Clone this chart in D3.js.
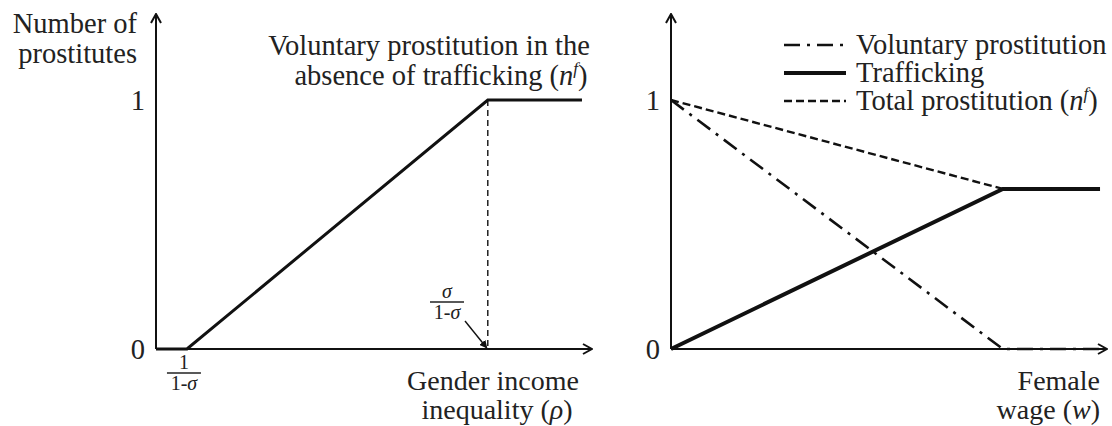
<!DOCTYPE html>
<html>
<head>
<meta charset="utf-8">
<script src="https://cdn.jsdelivr.net/npm/d3@7"></script>
<style>
  body { margin: 0; background: #fff; }
  svg text { font-family: "Liberation Serif", "DejaVu Serif", serif; fill: #222; }
</style>
</head>
<body>
<div id="chart"></div>
<script>
// Left panel: voluntary prostitution vs gender income inequality
const leftX = [0, 0.071, 0.761, 0.977];
const leftY = [0, 0, 1, 1];
const cutoffX = 0.761; // sigma/(1-sigma)

// Right panel: female wage
const rightX = [0, 0.761, 0.984];
const voluntary = [1, 0, 0];
const trafficking = [0, 0.643, 0.643];
const total = [1, 0.643, 0.643];

const yTicks = [0, 1];
const legendLabels = ["Voluntary prostitution", "Trafficking", "Total prostitution"];

const width = 1112, height = 426;
const ink = "#111";
const fs = 28.5;

const svg = d3.select("#chart").append("svg")
  .attr("width", width)
  .attr("height", height);

// arrow head for the axes
const defs = svg.append("defs");
defs.append("marker")
  .attr("id", "arrow")
  .attr("viewBox", "0 0 12 12")
  .attr("refX", 11).attr("refY", 6)
  .attr("markerWidth", 12).attr("markerHeight", 12)
  .attr("markerUnits", "userSpaceOnUse")
  .attr("orient", "auto")
  .append("path")
  .attr("d", "M2,1 L11,6 L2,11")
  .attr("fill", "none")
  .attr("stroke", ink)
  .attr("stroke-width", 2);
defs.append("marker")
  .attr("id", "smallArrow")
  .attr("viewBox", "0 0 10 10")
  .attr("refX", 9).attr("refY", 5)
  .attr("markerWidth", 8).attr("markerHeight", 8)
  .attr("markerUnits", "userSpaceOnUse")
  .attr("orient", "auto")
  .append("path")
  .attr("d", "M0,0 L10,5 L0,10 Z")
  .attr("fill", ink);

// Scales
const y = d3.scaleLinear().domain([0, 1]).range([349, 100]);
const yTop = 14;
const xL = d3.scaleLinear().domain([0, 1]).range([156, 592]);
const xR = d3.scaleLinear().domain([0, 1]).range([671, 1107]);

function drawAxes(x) {
  const g = svg.append("g");
  g.append("line")
    .attr("x1", x(0)).attr("y1", y(0))
    .attr("x2", x(0)).attr("y2", yTop)
    .attr("stroke", ink).attr("stroke-width", 2)
    .attr("marker-end", "url(#arrow)");
  g.append("line")
    .attr("x1", x(0)).attr("y1", y(0))
    .attr("x2", x.range()[1]).attr("y2", y(0))
    .attr("stroke", ink).attr("stroke-width", 2)
    .attr("marker-end", "url(#arrow)");
  const ax = svg.append("g")
    .attr("transform", "translate(" + x(0) + ",0)")
    .call(d3.axisLeft(y).tickValues(yTicks).tickFormat(d3.format("d")).tickSize(0).tickPadding(11));
  ax.select(".domain").remove();
  ax.selectAll("text")
    .attr("font-family", "Liberation Serif")
    .attr("font-size", fs)
    .attr("fill", "#222");
}

drawAxes(xL);
drawAxes(xR);

const line = (x, xs, ys) => d3.line()
  .x((d, i) => x(xs[i]))
  .y(d => y(d))(ys);

// ---------------- LEFT PANEL
svg.append("line")
  .attr("x1", xL(cutoffX)).attr("y1", y(1))
  .attr("x2", xL(cutoffX)).attr("y2", y(0))
  .attr("stroke", ink).attr("stroke-width", 1.4)
  .attr("stroke-dasharray", "6,4");

svg.append("path")
  .attr("d", line(xL, leftX, leftY))
  .attr("fill", "none")
  .attr("stroke", ink)
  .attr("stroke-width", 3);

// texts
function addText(x, yPos, anchor, parts, size) {
  const sz = size || fs;
  const t = svg.append("text")
    .attr("x", x).attr("y", yPos)
    .attr("text-anchor", anchor)
    .attr("font-size", sz);
  parts.forEach(p => {
    const s = t.append("tspan").text(p.t);
    if (p.i) s.attr("font-style", "italic");
    if (p.sup) s.attr("font-size", sz * 0.6).attr("dy", -11);
    if (p.after) s.attr("dy", 11);
  });
  return t;
}

addText(137, 33, "end", [{t: "Number of"}]);
addText(137, 63, "end", [{t: "prostitutes"}]);
addText(429, 55, "middle", [{t: "Voluntary prostitution in the"}]);
addText(441, 85, "middle", [{t: "absence of trafficking ("}, {t: "n", i: true}, {t: "f", i: true, sup: true}, {t: ")", after: true}]);
addText(493, 390, "middle", [{t: "Gender income"}], 28);
addText(497, 419, "middle", [{t: "inequality ("}, {t: "ρ", i: true}, {t: ")"}], 28);

// fractions
function fraction(cx, barY, num, numItalic) {
  svg.append("line")
    .attr("x1", cx - 17).attr("x2", cx + 17)
    .attr("y1", barY).attr("y2", barY)
    .attr("stroke", "#222").attr("stroke-width", 1.3);
  const n = svg.append("text").attr("x", cx).attr("y", barY - 4)
    .attr("text-anchor", "middle").attr("font-size", 20);
  n.append("tspan").text(num).attr("font-style", numItalic ? "italic" : "normal");
  const d = svg.append("text").attr("x", cx).attr("y", barY + 17)
    .attr("text-anchor", "middle").attr("font-size", 20);
  d.append("tspan").text("1-");
  d.append("tspan").text("σ").attr("font-style", "italic");
}
fraction(xL(leftX[1]) - 3, 373, "1", false);
fraction(447, 302, "σ", true);

svg.append("line")
  .attr("x1", 465).attr("y1", 321)
  .attr("x2", xL(cutoffX) - 1).attr("y2", y(0) - 1)
  .attr("stroke", ink).attr("stroke-width", 1.4)
  .attr("marker-end", "url(#smallArrow)");

// ---------------- RIGHT PANEL
svg.append("path")
  .attr("d", line(xR, rightX, trafficking))
  .attr("fill", "none").attr("stroke", ink).attr("stroke-width", 4);
svg.append("path")
  .attr("d", line(xR, rightX, total))
  .attr("fill", "none").attr("stroke", ink).attr("stroke-width", 2.4)
  .attr("stroke-dasharray", "8,4");
svg.append("path")
  .attr("d", line(xR, rightX, voluntary))
  .attr("fill", "none").attr("stroke", ink).attr("stroke-width", 2.6)
  .attr("stroke-dasharray", "16,7,3,7");

// legend
const legendStyles = [
  {w: 2.4, dash: "16,7,3,7"},
  {w: 4, dash: null},
  {w: 2.4, dash: "8,4"}
];
const legendY = [45, 73, 101];
legendLabels.forEach((lab, i) => {
  svg.append("line")
    .attr("x1", 784).attr("x2", 846)
    .attr("y1", legendY[i]).attr("y2", legendY[i])
    .attr("stroke", ink)
    .attr("stroke-width", legendStyles[i].w)
    .attr("stroke-dasharray", legendStyles[i].dash);
  const parts = [{t: lab}];
  if (i === 2) parts.push({t: " ("}, {t: "n", i: true}, {t: "f", i: true, sup: true}, {t: ")", after: true});
  addText(856, legendY[i] + 9, "start", parts);
});

addText(1100, 390, "end", [{t: "Female"}], 28);
addText(1100, 419, "end", [{t: "wage ("}, {t: "w", i: true}, {t: ")"}], 28);
</script>
</body>
</html>
